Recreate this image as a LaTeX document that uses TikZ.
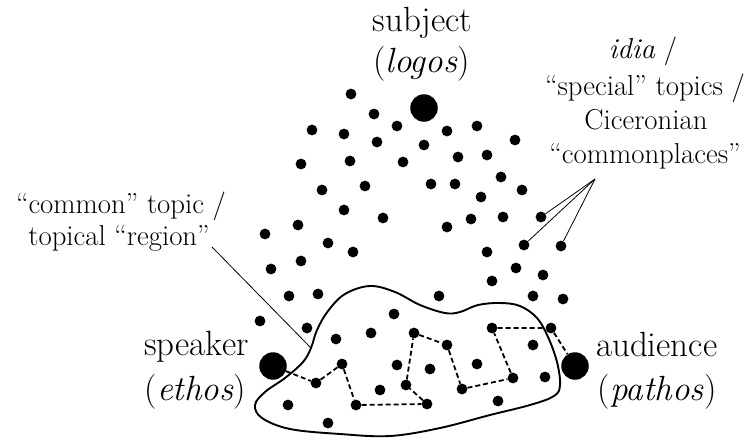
\documentclass[tikz,border=0pt]{standalone}
\usepackage{fontspec}
\begin{document}
\begin{tikzpicture}[x=1pt,y=-1pt,
  dot/.style={circle,fill=black,inner sep=0pt,minimum size=10.8pt},
  bigdot/.style={circle,fill=black,inner sep=0pt,minimum size=27.5pt},
  head/.style={font=\fontsize{35}{40}\selectfont,anchor=base,inner sep=0pt},
  lab/.style={font=\fontsize{28.8}{34}\selectfont,anchor=base,inner sep=0pt},
  regionline/.style={line width=1.9pt},
  trail/.style={dash pattern=on 5pt off 3pt,line width=1.8pt},
  leader/.style={line width=0.8pt}]
\useasboundingbox (0,0) rectangle (747,442);

% topical region outline
\draw[regionline] plot[smooth cycle,tension=0.6] coordinates {
 (370,286) (395,292) (420,305) (445,313) (460,312) (478,305) (500,303)
 (520,306) (537,318) (548,337) (557,362) (560,385) (554,396) (530,405)
 (490,415) (440,428) (390,436) (340,434) (290,429) (262,418) (255,405)
 (265,392) (285,378) (303,362) (311,348) (317,330) (328,311) (345,294)};
\coordinate (lend) at (311,348);

% scattered topics
\foreach \x/\y [count=\i] in {
 351/94, 374/114, 312/130, 344/134, 397/126, 447/131, 477/126, 377/142,
 424/145, 515/140, 301/164, 350/161, 403/162, 458/157, 487/155, 501/177,
 322/190, 365/186, 431/184, 455/184, 481/197, 522/190, 344/210,
 383/218, 298/225, 265/234, 328/243, 353/252, 301/261, 271/269, 289/296,
 318/294, 439/296, 447/227, 471/219, 503/217, 487/252, 516/268,
 543/275, 492/281, 533/296, 563/299,
 260/321, 307/328, 394/314, 336/339, 371/333, 533/345, 397/365, 430/369,
 477/364, 545/377, 380/390, 288/405, 498/401, 328/423}
  \node[dot] (d\i) at (\x,\y) {};

% special topics pointed at
\node[dot] (ra) at (541,217) {};
\node[dot] (rb) at (524,245) {};
\node[dot] (rc) at (561,246) {};

% path of the argument
\foreach \x/\y [count=\i] in {316/383, 342/364, 356/405, 427/404, 406/385,
 414/333, 447/345, 462/389, 513/378, 492/328, 551/328}
  \node[dot] (p\i) at (\x,\y) {};

% big dots
\node[bigdot] (sdot) at (424,108) {};
\node[bigdot] (kdot) at (273,366) {};
\node[bigdot] (adot) at (575,366) {};

\draw[trail] (kdot) -- (p1) -- (p2) -- (p3) -- (p4) -- (p5) -- (p6) -- (p7)
  -- (p8) -- (p9) -- (p10) -- (p11) -- (adot);

% labels
\node[head] (subj) at (422.5,31.7) {subject};
\node[head] (logos) at (421.5,72) {(\textit{logos})};
\node[head] (spk) at (196.5,355) {speaker};
\node[head] (ethos) at (195.5,400) {(\textit{ethos})};
\node[head] (aud) at (656.7,356) {audience};
\node[head] (pathos) at (657,400) {(\textit{pathos})};

\node[lab] (l1) at (121,213) {“common” topic /};
\node[lab] (l2) at (119,245) {topical “region”};
\node[lab] (r1) at (643,58) {\textit{idia} /};
\node[lab] (r2) at (645,95) {“special” topics /};
\node[lab] (r3) at (646,129) {Ciceronian};
\node[lab] (r4) at (645,163) {“commonplaces”};

% leaders
\coordinate (lstart) at (212,247);
\draw[leader] (lstart) -- (lend);
\coordinate (rstart) at (595,179);
\draw[leader] (rstart) -- (ra);
\draw[leader] (rstart) -- (rb);
\draw[leader] (rstart) -- (rc);
\end{tikzpicture}
\end{document}
